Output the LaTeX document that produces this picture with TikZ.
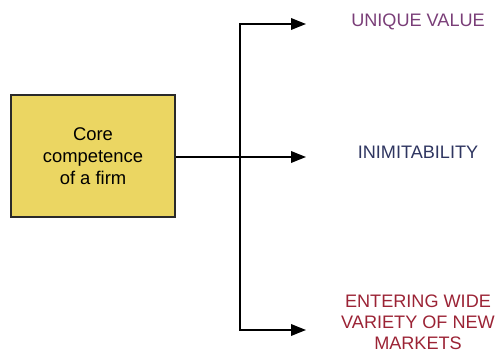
\documentclass[tikz,border=0pt]{standalone}
\usepackage{fontspec}
\setmainfont{Liberation Sans}
\usetikzlibrary{arrows.meta}
\definecolor{boxfill}{HTML}{EBD662}
\definecolor{boxedge}{HTML}{2A2A2A}
\definecolor{cpurple}{HTML}{7A3E78}
\definecolor{cnavy}{HTML}{2E3560}
\definecolor{cred}{HTML}{9B2335}
\begin{document}
\begin{tikzpicture}[x=1pt,y=-1pt,
  corebox/.style={draw=boxedge,line width=2pt,fill=boxfill,minimum width=164pt,minimum height=122pt,inner sep=0pt,align=center,font=\fontsize{18.4}{22}\selectfont},
  conn/.style={line width=1.9pt,black},
  arr/.style={conn,-{Triangle[length=15pt,width=11.5pt]}},
  outlabel/.style={align=center,font=\fontsize{18.1}{21}\selectfont,inner sep=0pt}]
\useasboundingbox (0,0) rectangle (497,352);
\node[corebox] (core) at (93,156.5) {Core\\competence\\of a firm};
\coordinate (j) at (240,157);
\coordinate (jt) at (240,24);
\coordinate (jb) at (240,330);
\coordinate (t1) at (306,24);
\coordinate (t2) at (306,157);
\coordinate (t3) at (306,330);
\node[outlabel,text=cpurple] (l1) at (418,22) {UNIQUE VALUE};
\node[outlabel,text=cnavy] (l2) at (418,152) {INIMITABILITY};
\node[outlabel,text=cred] (l3) at (418,322) {ENTERING WIDE\\VARIETY OF NEW\\MARKETS};
\draw[conn] (core.east |- j) -- (j);
\draw[conn] (jt) -- (jb);
\draw[arr] ([xshift=-0.95pt]jt) -- (t1);
\draw[arr] (j) -- (t2);
\draw[arr] ([xshift=-0.95pt]jb) -- (t3);
\end{tikzpicture}
\end{document}
